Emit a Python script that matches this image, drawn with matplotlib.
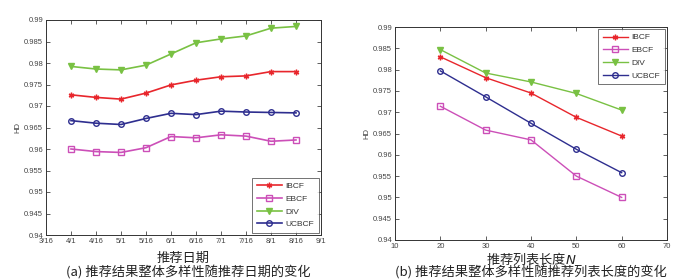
import matplotlib
matplotlib.use("Agg")
import matplotlib.pyplot as plt

plt.rcParams['font.family'] = ['Liberation Sans', 'Noto Sans CJK SC', 'DejaVu Sans']

# ---- data: chart (a) ----
dates = ['3/16', '4/1', '4/16', '5/1', '5/16', '6/1', '6/16', '7/1', '7/16', '8/1', '8/16', '9/1']
a_ibcf = [0.9726, 0.9720, 0.9716, 0.9730, 0.9749, 0.9760, 0.9768, 0.9770, 0.9780, 0.9780]
a_ebcf = [0.9600, 0.9594, 0.9592, 0.9603, 0.9629, 0.9626, 0.9633, 0.9630, 0.9618, 0.9621]
a_div = [0.9792, 0.9786, 0.9784, 0.9795, 0.9821, 0.9847, 0.9856, 0.9863, 0.9881, 0.9885]
a_ucbcf = [0.9666, 0.9660, 0.9657, 0.9671, 0.9683, 0.9680, 0.9688, 0.9686, 0.9685, 0.9684]

# ---- data: chart (b) ----
lengths = [20, 30, 40, 50, 60]
b_ibcf = [0.9830, 0.9781, 0.9745, 0.9688, 0.9644]
b_ebcf = [0.9714, 0.9658, 0.9635, 0.9550, 0.9500]
b_div = [0.9847, 0.9792, 0.9771, 0.9744, 0.9705]
b_ucbcf = [0.9797, 0.9736, 0.9674, 0.9613, 0.9558]

names = ['IBCF', 'EBCF', 'DIV', 'UCBCF']
colors = ['#e8262c', '#cc4fb8', '#79c143', '#2e2e8f']
markers = [(6, 2, 0), 's', 'v', 'o']

fig = plt.figure(figsize=(7, 2.8), dpi=100)
ax1 = fig.add_axes([46/700, 1-235/280, 275/700, 215/280])
ax2 = fig.add_axes([395/700, 1-240/280, 272/700, 213/280])

tick_color = '#444444'
cjk = ['Noto Sans CJK SC', 'DejaVu Sans']

def style(ax):
    ax.tick_params(direction='in', top=True, right=True, length=3, width=0.6,
                   labelsize=5.5, colors=tick_color, pad=2)
    for s in ax.spines.values():
        s.set_linewidth(0.7)
        s.set_color('#333333')
    ax.set_ylim(0.94, 0.99)
    ax.set_yticks([0.94, 0.945, 0.95, 0.955, 0.96, 0.965, 0.97, 0.975, 0.98, 0.985, 0.99])
    ax.set_yticklabels(['0.94', '0.945', '0.95', '0.955', '0.96', '0.965', '0.97',
                        '0.975', '0.98', '0.985', '0.99'])
    ax.set_ylabel('HD', fontsize=5.5, color=tick_color, labelpad=2)

def draw(ax, xs, series, lw):
    for vals, name, c, m in zip(series, names, colors, markers):
        filled = name in ('IBCF', 'DIV')
        ax.plot(xs, vals, color=c, lw=lw, marker=m, markersize=4.5 if m == 'v' else 4,
                markerfacecolor=c if filled else 'none', markeredgecolor=c,
                markeredgewidth=1.0, label=name)

def legend(ax, loc):
    leg = ax.legend(loc=loc, fontsize=6, frameon=True, fancybox=False,
                    edgecolor='#333333', handlelength=3.0, borderaxespad=0.3,
                    labelspacing=0.6, handletextpad=0.5, borderpad=0.5)
    leg.get_frame().set_linewidth(0.6)
    for t in leg.get_texts():
        t.set_color('#333333')

# chart (a)
xa = list(range(1, 1 + len(a_ibcf)))
draw(ax1, xa, [a_ibcf, a_ebcf, a_div, a_ucbcf], 1.2)
style(ax1)
ax1.set_xlim(0, len(dates) - 1)
ax1.set_xticks(range(len(dates)))
ax1.set_xticklabels(dates)
ax1.set_xlabel('推荐日期', fontsize=9.5, family=cjk, labelpad=5, color='#222222')
legend(ax1, 'lower right')

# chart (b)
draw(ax2, lengths, [b_ibcf, b_ebcf, b_div, b_ucbcf], 1.0)
style(ax2)
ax2.set_xlim(10, 70)
ax2.set_xticks([10, 20, 30, 40, 50, 60, 70])
ax2.set_xlabel('推荐列表长度$N$', fontsize=9.5, family=cjk, labelpad=1, color='#222222')
legend(ax2, 'upper right')

fig.text(188/700, 1-273/280, '(a) 推荐结果整体多样性随推荐日期的变化', ha='center', va='center',
         fontsize=9.5, family=cjk, color='#222222')
fig.text(531/700, 1-273/280, '(b) 推荐结果整体多样性随推荐列表长度的变化', ha='center', va='center',
         fontsize=9.5, family=cjk, color='#222222')

fig.savefig('out.png', dpi=100)
